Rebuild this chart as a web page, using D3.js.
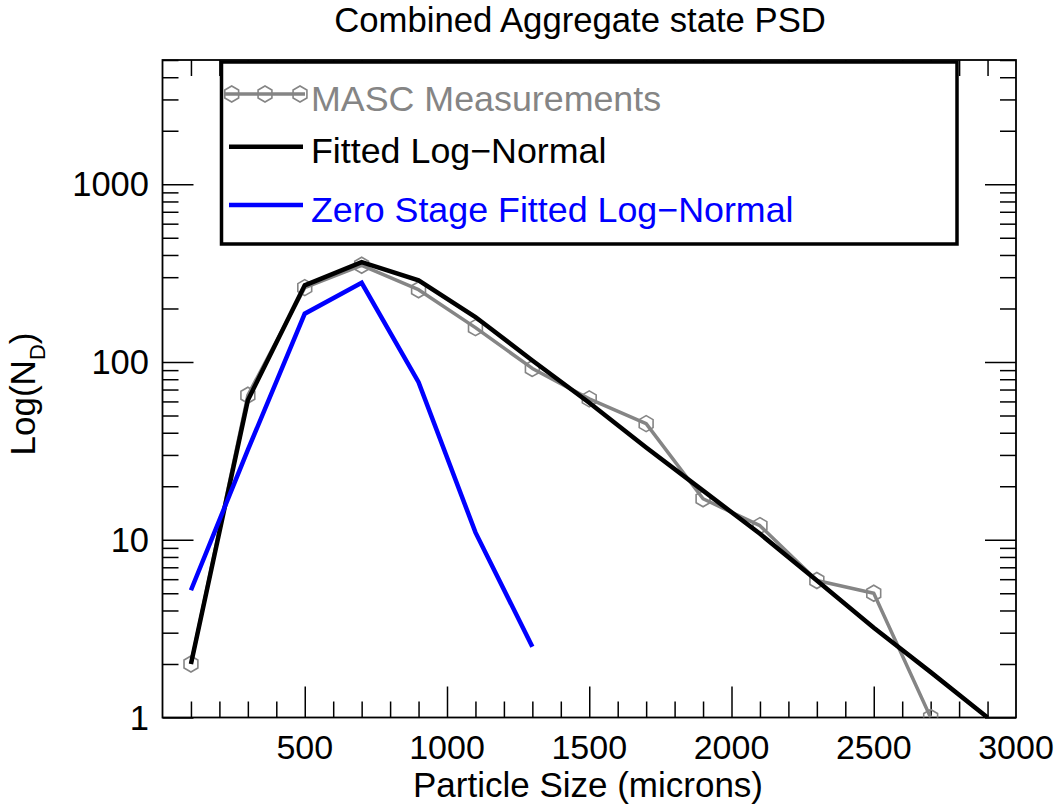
<!DOCTYPE html>
<html>
<head>
<meta charset="utf-8">
<script src="https://cdn.jsdelivr.net/npm/d3@7/dist/d3.min.js"></script>
<style>
  html, body { margin: 0; padding: 0; background: #fff; }
  svg { display: block; }
  text { font-family: "Liberation Sans", Arial, Helvetica, sans-serif; }
</style>
</head>
<body>
<svg id="chart" width="1060" height="811"></svg>
<script>
// ---- Data ----
const masc_sizes = [100, 300, 500, 700, 900, 1100, 1300, 1500, 1700, 1900, 2100, 2300, 2500, 2700];
const masc_values = [2.0, 65, 262, 350, 255, 156, 92, 62, 45, 17, 12, 5.9, 5.0, 1.0];

const fit_sizes = [100, 300, 500, 700, 900, 1100, 1300, 1500, 1700, 1900, 2100, 2300, 2500, 2700, 2900];
const fit_values = [2.0, 61, 270, 365, 288, 179, 102, 59, 33, 18.9, 10.8, 5.9, 3.2, 1.8, 1.0];

const zero_sizes = [100, 300, 500, 700, 900, 1100, 1300];
const zero_values = [5.2, 32, 187, 279, 77, 11.0, 2.5];

const x_ticks = [500, 1000, 1500, 2000, 2500, 3000];
const y_ticks = [1, 10, 100, 1000];

const legend_labels = ["MASC Measurements", "Fitted Log\u2212Normal", "Zero Stage Fitted Log\u2212Normal"];
const series_colors = ["#858585", "#000000", "#0000ff"];

// ---- Layout ----
const svg = d3.select("#chart");
const L = 162.5, R = 1016, T = 60, B = 717.5;

const x = d3.scaleLinear().domain([0, 3000]).range([L, R]);
const y = d3.scaleLog().domain([1, 5000]).range([B, T]);

const xMinor = d3.range(100, 3000, 100).filter(v => v % 500 !== 0);
const yMinor = [];
[1, 10, 100, 1000].forEach(d => { for (let k = 2; k <= 9; k++) { const v = d * k; if (v <= 5000) yMinor.push(v); } });
const yMajor = [1, 10, 100, 1000];
const xMajor = [500, 1000, 1500, 2000, 2500];

const tickColor = "#000";
const tickW = 1.5;
const majLen = 31, minLen = 16;

function styleAxis(g) {
  g.select(".domain").remove();
  g.selectAll("line").attr("stroke", tickColor).attr("stroke-width", tickW);
  g.selectAll("text").remove();
}
// bottom
svg.append("g").attr("transform", `translate(0,${B})`)
  .call(d3.axisTop(x).tickValues(xMinor).tickSize(minLen)).call(styleAxis);
svg.append("g").attr("transform", `translate(0,${B})`)
  .call(d3.axisTop(x).tickValues(xMajor).tickSize(majLen)).call(styleAxis);
// top
svg.append("g").attr("transform", `translate(0,${T})`)
  .call(d3.axisBottom(x).tickValues(xMinor).tickSize(minLen)).call(styleAxis);
svg.append("g").attr("transform", `translate(0,${T})`)
  .call(d3.axisBottom(x).tickValues(xMajor).tickSize(majLen)).call(styleAxis);
// left
svg.append("g").attr("transform", `translate(${L},0)`)
  .call(d3.axisRight(y).tickValues(yMinor).tickSize(minLen)).call(styleAxis);
svg.append("g").attr("transform", `translate(${L},0)`)
  .call(d3.axisRight(y).tickValues(yMajor).tickSize(majLen)).call(styleAxis);
// right
svg.append("g").attr("transform", `translate(${R},0)`)
  .call(d3.axisLeft(y).tickValues(yMinor).tickSize(minLen)).call(styleAxis);
svg.append("g").attr("transform", `translate(${R},0)`)
  .call(d3.axisLeft(y).tickValues(yMajor).tickSize(majLen)).call(styleAxis);

// frame
svg.append("rect").attr("x", L).attr("y", T).attr("width", R - L).attr("height", B - T)
  .attr("fill", "none").attr("stroke", "#000").attr("stroke-width", 1.8);

// tick labels
svg.append("g").selectAll("text").data(x_ticks).join("text")
  .attr("x", d => x(d)).attr("y", 759)
  .attr("text-anchor", "middle").attr("font-size", 34).attr("fill", "#000")
  .text(d => d);
svg.append("g").selectAll("text").data(y_ticks).join("text")
  .attr("x", 149).attr("y", d => y(d) + 12)
  .attr("text-anchor", "end").attr("font-size", 34.5).attr("fill", "#000")
  .text(d => d);

// titles
svg.append("text").attr("x", 580).attr("y", 32).attr("text-anchor", "middle")
  .attr("font-size", 34.7).attr("fill", "#000").text("Combined Aggregate state PSD");
svg.append("text").attr("x", 588).attr("y", 797).attr("text-anchor", "middle")
  .attr("font-size", 35).attr("fill", "#000").text("Particle Size (microns)");
const yl = svg.append("text").attr("transform", "translate(35,394) rotate(-90)")
  .attr("text-anchor", "middle").attr("font-size", 35).attr("fill", "#000");
yl.append("tspan").text("Log(N");
yl.append("tspan").attr("font-size", 22).attr("dy", 10).text("D");
yl.append("tspan").attr("dy", -10).text(")");

// clip
svg.append("clipPath").attr("id", "plotclip").append("rect")
  .attr("x", L).attr("y", T).attr("width", R - L).attr("height", B - T);
const plot = svg.append("g").attr("clip-path", "url(#plotclip)");

const line = d3.line().x(d => x(d[0])).y(d => y(d[1]));

const hexPath = (r) => {
  const pts = d3.range(6).map(i => {
    const a = Math.PI / 2 + i * Math.PI / 3;
    return [r * Math.cos(a), r * Math.sin(a)];
  });
  return "M" + pts.map(p => p.join(",")).join("L") + "Z";
};

// MASC
const mascData = masc_sizes.map((s, i) => [s, masc_values[i]]);
plot.append("path").attr("d", line(mascData)).attr("fill", "none")
  .attr("stroke", series_colors[0]).attr("stroke-width", 3.5).attr("stroke-linejoin", "round");
plot.append("g").selectAll("path").data(mascData).join("path")
  .attr("transform", d => `translate(${x(d[0])},${y(d[1])})`)
  .attr("d", hexPath(8)).attr("fill", "none").attr("stroke", series_colors[0]).attr("stroke-width", 1.6);

// Fit
const fitData = fit_sizes.map((s, i) => [s, fit_values[i]]);
plot.append("path").attr("d", line(fitData)).attr("fill", "none")
  .attr("stroke", series_colors[1]).attr("stroke-width", 4.5).attr("stroke-linejoin", "miter");

// Zero stage
const zeroData = zero_sizes.map((s, i) => [s, zero_values[i]]);
plot.append("path").attr("d", line(zeroData)).attr("fill", "none")
  .attr("stroke", series_colors[2]).attr("stroke-width", 4.5).attr("stroke-linejoin", "miter");

// Legend
const lg = svg.append("g");
lg.append("rect").attr("x", 221.5).attr("y", 62).attr("width", 735.5).attr("height", 182)
  .attr("fill", "#fff").attr("stroke", "#000").attr("stroke-width", 3.5);
const rows = [
  { ly: 94, ty: 110.5, x1: 225, x2: 305, w: 3.5 },
  { ly: 146.7, ty: 163, x1: 229, x2: 303, w: 4.5 },
  { ly: 205, ty: 221.5, x1: 229, x2: 303, w: 4.5 }
];
rows.forEach((r, i) => {
  lg.append("line").attr("x1", r.x1).attr("x2", r.x2).attr("y1", r.ly).attr("y2", r.ly)
    .attr("stroke", series_colors[i]).attr("stroke-width", r.w);
  if (i === 0) {
    [231.7, 265, 300].forEach(hx => {
      lg.append("path").attr("transform", `translate(${hx},${r.ly})`).attr("d", hexPath(8))
        .attr("fill", "none").attr("stroke", series_colors[0]).attr("stroke-width", 1.6);
    });
  }
  lg.append("text").attr("x", 311).attr("y", r.ty).attr("font-size", 35.8)
    .attr("fill", series_colors[i]).text(legend_labels[i]);
});
</script>
</body>
</html>
